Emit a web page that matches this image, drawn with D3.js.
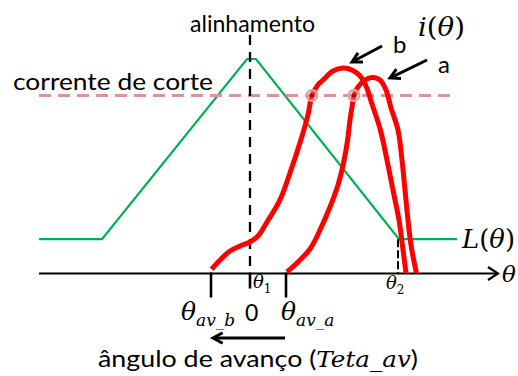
<!DOCTYPE html>
<html>
<head>
<meta charset="utf-8">
<script src="https://cdn.jsdelivr.net/npm/d3@7"></script>
<style>
  html, body { margin: 0; padding: 0; background: #fff; }
  svg { display: block; }
</style>
</head>
<body>
<svg id="chart" width="518" height="376"></svg>
<script>
// Rotor angle θ (arbitrary units, 0 = alignment) and normalized magnitude (% of L max)
const thetaAxis = [-52.75, 62];

// Inductance profile L(θ)
const inductance = [
  [-52.75, 16], [-37, 16], [-0.75, 100], [1.5, 100], [37.25, 16], [51.75, 16]
];

// Phase current for advance angle b (earlier switching)
const currentB = [
  [-9.6, 2], [-7, 7.2], [-5, 10.5], [-2.5, 12.8], [0, 14.7], [2, 17.5],
  [4.25, 24], [7.5, 34.3], [10, 46.9], [13, 64], [14.5, 74], [15.5, 83],
  [17, 88], [18.25, 90.2], [20.75, 94.4], [23.25, 95.8], [25.5, 94.9],
  [27.5, 92.1], [29, 87.4], [30.5, 79], [32.6, 66.9], [34.5, 50.6],
  [36, 36.6], [37.25, 24.9], [38.1, 13.3], [39, 0.2]
];

// Phase current for advance angle a
const currentA = [
  [9.25, 0.7], [12, 5.4], [15, 11.4], [17.5, 20.3], [20, 31], [22, 41.3],
  [23, 48.3], [24, 57.6], [24.5, 63.6], [25, 71.6], [25.5, 77.6], [26, 83],
  [27, 87], [28.75, 90.2], [30.5, 91.4], [32.5, 90.2], [34, 85.5],
  [35.25, 77.2], [37, 66.9], [38, 52.9], [38.75, 38.9], [39.5, 24.9],
  [40.25, 13.3], [41.6, 0.2]
];

// Chopping current level and where each current reaches it
const cutoffLevel = 83;
const cutoffRange = [-52.75, 50];
const cutoffHits = [15.5, 26];

// Marked angles on the θ axis
const thetaAvB = -9.75;
const thetaAvA = 9;
const theta2 = 37;
const lMin = 16;

const svg = d3.select("#chart");
const x = d3.scaleLinear().domain([0, 10]).range([250, 290]);
const y = d3.scaleLinear().domain([0, 100]).range([273.5, 59]);

const line = d3.line().x(d => x(d[0])).y(d => y(d[1]));
const smooth = d3.line().x(d => x(d[0])).y(d => y(d[1])).curve(d3.curveCatmullRom.alpha(0.5));

const RED = "#ff0000", GREEN = "#00b050", PINK = "#d99694";
const SANS = "Lato, 'Open Sans', sans-serif";
const MATH = "'DejaVu Serif', 'Liberation Serif', serif";

// inductance
svg.append("path").attr("d", line(inductance))
  .attr("fill", "none").attr("stroke", GREEN).attr("stroke-width", 2.2);

// chopping current level
svg.append("path")
  .attr("d", line(cutoffRange.map(t => [t, cutoffLevel])))
  .attr("fill", "none").attr("stroke", PINK).attr("stroke-width", 3)
  .attr("stroke-dasharray", "12,7");

// alignment line
svg.append("line")
  .attr("x1", x(0)).attr("x2", x(0)).attr("y1", 35).attr("y2", y(0))
  .attr("stroke", "#000").attr("stroke-width", 2.3).attr("stroke-dasharray", "10,7");

// θ2 marker
svg.append("line")
  .attr("x1", x(theta2)).attr("x2", x(theta2)).attr("y1", y(lMin)).attr("y2", y(0))
  .attr("stroke", "#000").attr("stroke-width", 2).attr("stroke-dasharray", "8,3");

// θ axis with arrow
const ax0 = x(thetaAxis[0]), ax1 = x(thetaAxis[1]), ay = y(0);
svg.append("line").attr("x1", ax0).attr("x2", ax1).attr("y1", ay).attr("y2", ay)
  .attr("stroke", "#000").attr("stroke-width", 2.2);
svg.append("path")
  .attr("d", `M${ax1 - 10},${ay - 6.5}L${ax1},${ay}L${ax1 - 10},${ay + 6.5}`)
  .attr("fill", "none").attr("stroke", "#000").attr("stroke-width", 2.2);

// ticks
[[thetaAvB, 24], [thetaAvA, 24], [0, 15]].forEach(([t, len]) => {
  svg.append("line").attr("x1", x(t)).attr("x2", x(t))
    .attr("y1", ay - 1).attr("y2", ay + len)
    .attr("stroke", "#000").attr("stroke-width", 2.6);
});

// currents
[currentB, currentA].forEach(c => {
  svg.append("path").attr("d", smooth(c))
    .attr("fill", "none").attr("stroke", RED).attr("stroke-width", 5)
    .attr("stroke-linejoin", "round");
});

// crossings with chopping level
cutoffHits.forEach(t => {
  svg.append("circle").attr("cx", x(t)).attr("cy", y(cutoffLevel)).attr("r", 5.5)
    .attr("fill", "rgba(217,150,148,0.45)").attr("stroke", "#dfa3a1").attr("stroke-width", 2);
  svg.append("circle").attr("cx", x(t)).attr("cy", y(cutoffLevel)).attr("r", 2.3)
    .attr("fill", "#c00000");
});

// helper: arrow with chevron head at (x2,y2)
function arrow(x1, y1, x2, y2, head, w) {
  const a = Math.atan2(y2 - y1, x2 - x1);
  const s = 0.5;
  const p1 = [x2 - head * Math.cos(a - s), y2 - head * Math.sin(a - s)];
  const p2 = [x2 - head * Math.cos(a + s), y2 - head * Math.sin(a + s)];
  svg.append("line").attr("x1", x1).attr("y1", y1).attr("x2", x2 - Math.cos(a)).attr("y2", y2 - Math.sin(a))
    .attr("stroke", "#000").attr("stroke-width", w);
  svg.append("path").attr("d", `M${p1}L${x2},${y2}L${p2}`)
    .attr("fill", "none").attr("stroke", "#000").attr("stroke-width", w)
    .attr("stroke-linejoin", "miter");
}
arrow(382, 46, 352, 62, 11, 3);
arrow(427, 60, 390, 78, 11, 3);
arrow(285, 338, 213, 338, 11, 3);

// texts
function sans(txt, tx, ty, size, anchor) {
  return svg.append("text").attr("x", tx).attr("y", ty)
    .attr("font-family", SANS).attr("font-size", size)
    .attr("text-anchor", anchor || "start").attr("fill", "#000").text(txt);
}
sans("alinhamento", 190, 32, 23).attr("textLength", 125).attr("lengthAdjust", "spacingAndGlyphs");
sans("corrente de corte", 13, 90, 24).attr("textLength", 200).attr("lengthAdjust", "spacingAndGlyphs");
sans("b", 393, 53, 24);
sans("a", 438, 73, 24);
sans("0", 245, 321, 23);

function math(parts, tx, ty, size) {
  const t = svg.append("text").attr("x", tx).attr("y", ty)
    .attr("font-family", MATH).attr("font-size", size).attr("fill", "#000");
  parts.forEach(p => {
    const s = t.append("tspan").text(p.t);
    if (p.it) s.attr("font-style", "italic");
    if (p.size) s.attr("font-size", p.size);
    if (p.dy) s.attr("dy", p.dy);
  });
  return t;
}
math([{t: "i", it: 1}, {t: "("}, {t: "θ", it: 1}, {t: ")"}], 418, 36, 26)
  .attr("textLength", 47).attr("lengthAdjust", "spacingAndGlyphs");
math([{t: "L", it: 1}, {t: "("}, {t: "θ", it: 1}, {t: ")"}], 462, 248, 26)
  .attr("textLength", 53).attr("lengthAdjust", "spacingAndGlyphs");
math([{t: "θ", it: 1}], 502, 282, 23);
math([{t: "θ", it: 1}, {t: "1", size: 12, dy: 5}], 253, 288, 18);
math([{t: "θ", it: 1}, {t: "2", size: 12, dy: 5}], 386, 289, 18);
math([{t: "θ", it: 1}, {t: "av_b", it: 1, size: 17, dy: 6}], 181, 320, 25);
math([{t: "θ", it: 1}, {t: "av_a", it: 1, size: 17, dy: 6}], 281, 320, 25);

// bottom caption
const cap = svg.append("text").attr("x", 98).attr("y", 367)
  .attr("font-family", SANS).attr("font-size", 24).attr("fill", "#000")
  .attr("textLength", 320).attr("lengthAdjust", "spacingAndGlyphs");
cap.append("tspan").text("ângulo de avanço (");
cap.append("tspan").attr("font-family", MATH).attr("font-style", "italic").attr("font-size", 22).text("Teta_av");
cap.append("tspan").text(")");
</script>
</body>
</html>
